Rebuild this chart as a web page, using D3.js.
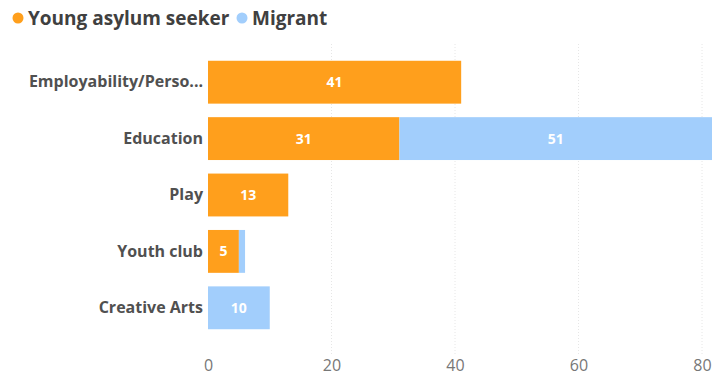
<!DOCTYPE html>
<html>
<head>
<meta charset="utf-8">
<script src="https://cdn.jsdelivr.net/npm/d3@7"></script>
<style>
  html, body { margin: 0; padding: 0; background: #fff; overflow: hidden; }
  svg { display: block; font-family: "Open Sans", "Noto Sans", sans-serif; }
</style>
</head>
<body>
<svg id="chart" width="712" height="379"></svg>
<script>
// Activity categories (top to bottom)
const categories = ["Employability/Perso...", "Education", "Play", "Youth club", "Creative Arts"];
// Participant counts per series
const seriesNames = ["Young asylum seeker", "Migrant"];
const youngAsylumSeeker = [41, 31, 13, 5, 0];
const migrant = [0, 51, 0, 1, 10];
const xTicks = [0, 20, 40, 60, 80];
const colors = ["#FF9F1C", "#A2CEFC"];

const svg = d3.select("#chart");
const margin = { left: 208, top: 54 };

const x = d3.scaleLinear().domain([0, 80]).range([margin.left, 702]);
const y = d3.scaleBand().domain(categories).range([margin.top, 336])
  .paddingInner(0.24).paddingOuter(0.12);

// Dotted vertical gridlines
svg.append("g").selectAll("line")
  .data(xTicks.filter(d => d > 0))
  .join("line")
  .attr("x1", d => x(d)).attr("x2", d => x(d))
  .attr("y1", 44).attr("y2", 355)
  .attr("stroke", "#e6e6e6").attr("stroke-width", 1)
  .attr("stroke-dasharray", "1,2");

// Stacked data
const rows = categories.map((c, i) => ({ cat: c, [seriesNames[0]]: youngAsylumSeeker[i], [seriesNames[1]]: migrant[i] }));
const stack = d3.stack().keys(seriesNames)(rows);

const layers = svg.append("g").selectAll("g")
  .data(stack).join("g")
  .attr("fill", (d, i) => colors[i]);

layers.selectAll("rect")
  .data(d => d.filter(s => s[1] - s[0] > 0))
  .join("rect")
  .attr("x", d => x(d[0]))
  .attr("y", d => y(d.data.cat))
  .attr("width", d => x(d[1]) - x(d[0]))
  .attr("height", y.bandwidth());

// Value labels inside segments (skip slivers too thin to hold text)
layers.selectAll("text")
  .data(d => d.filter(s => s[1] - s[0] >= 3))
  .join("text")
  .attr("x", d => (x(d[0]) + Math.min(x(d[1]), 712)) / 2)
  .attr("y", d => y(d.data.cat) + y.bandwidth() / 2)
  .attr("dy", "0.36em")
  .attr("text-anchor", "middle")
  .attr("fill", "#fff")
  .attr("font-size", 14)
  .attr("font-weight", 700)
  .text(d => d[1] - d[0]);

// Category axis
const yAxis = svg.append("g")
  .attr("transform", `translate(${margin.left},0)`)
  .call(d3.axisLeft(y).tickSize(0).tickPadding(5));
yAxis.select(".domain").remove();
yAxis.selectAll("text")
  .attr("font-family", "'Open Sans', sans-serif")
  .attr("font-size", 16)
  .attr("font-weight", 700)
  .attr("fill", "#505050");

// Value axis
const xAxis = svg.append("g")
  .attr("transform", "translate(0,360)")
  .call(d3.axisBottom(x).tickValues(xTicks).tickSize(0).tickPadding(0));
xAxis.select(".domain").remove();
xAxis.selectAll("text")
  .attr("font-family", "'Open Sans', sans-serif")
  .attr("font-size", 16)
  .attr("fill", "#777");

// Legend
const legendX = [18, 242];
const legend = svg.append("g").selectAll("g")
  .data(seriesNames).join("g")
  .attr("transform", (d, i) => `translate(${legendX[i]},18)`);
legend.append("circle").attr("r", 5.5).attr("fill", (d, i) => colors[i]);
legend.append("text")
  .attr("x", 10).attr("dy", "0.35em")
  .attr("font-size", 19).attr("font-weight", 700)
  .attr("fill", "#404040")
  .text(d => d);
</script>
</body>
</html>
